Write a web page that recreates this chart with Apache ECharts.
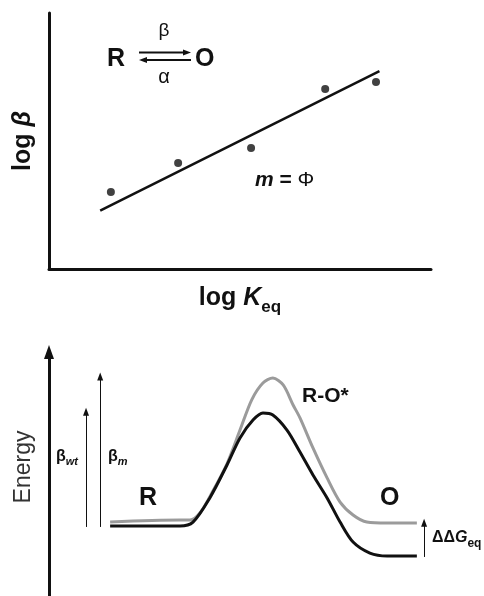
<!DOCTYPE html>
<html>
<head>
<meta charset="utf-8">
<script src="https://cdn.jsdelivr.net/npm/echarts@6/dist/echarts.min.js"></script>
<style>
  html, body { margin: 0; padding: 0; background: #fff; }
  #chart { width: 484px; height: 596px; }
</style>
</head>
<body>
<div id="chart"></div>
<script>
// top panel: log beta against log Keq (arbitrary units 0-10)
const logK = [1.62, 3.38, 5.29, 7.23, 8.56];
const logBeta = [3.01, 4.14, 4.73, 7.03, 7.30];
const fitLogK = [1.34, 8.65];
const fitLogBeta = [2.28, 7.73];

// bottom panel: reaction coordinate against energy
const coordWt = [1.60, 3.43, 3.77, 4.21, 4.66, 5.00, 5.34, 5.60, 5.86, 6.23, 6.57, 6.91, 7.28, 7.62, 7.96, 8.40, 8.85, 9.63];
const energyWt = [2.87, 2.87, 3.03, 4.02, 5.37, 6.48, 7.21, 7.50, 7.42, 6.80, 5.90, 4.96, 4.02, 3.03, 2.21, 1.76, 1.64, 1.64];
const coordMut = [1.60, 3.43, 3.69, 3.95, 4.29, 4.66, 5.00, 5.31, 5.60, 5.86, 6.13, 6.39, 6.57, 6.91, 7.28, 7.62, 7.96, 8.32, 8.85, 9.63];
const energyMut = [3.03, 3.11, 3.11, 3.40, 4.30, 5.42, 6.80, 8.05, 8.73, 8.93, 8.65, 7.83, 7.30, 6.07, 4.84, 3.85, 3.32, 3.03, 2.99, 2.99];

// vertical arrows: beta_wt, beta_m, ddG_eq
const arrowX = [0.97, 1.34, 9.82];
const arrowFrom = [2.83, 2.83, 1.60];
const arrowTo = [7.55, 9.00, 3.00];

const FONT = '"Liberation Sans", Arial, sans-serif';

const zip = (a, b) => a.map((v, i) => [v, b[i]]);

const hiddenAxis = {
  type: 'value', min: 0, max: 10,
  axisTick: { show: false },
  axisLabel: { show: false },
  splitLine: { show: false }
};

const chart = echarts.init(document.getElementById('chart'));

const option = {
  animation: false,
  backgroundColor: '#fff',
  textStyle: { fontFamily: FONT },
  grid: [
    { left: 49, top: 13, width: 382, height: 256 },
    { left: 49, top: 352, width: 382, height: 244 }
  ],
  xAxis: [
    Object.assign({}, hiddenAxis, {
      gridIndex: 0,
      axisLine: { show: true, onZero: false, lineStyle: { color: '#111', width: 3 } },
      name: '{a|log }{k|K}{s|eq}',
      nameLocation: 'middle',
      nameGap: 17,
      nameTextStyle: {
        rich: {
          a: { fontFamily: FONT, fontSize: 25, fontWeight: 'bold', color: '#111', lineHeight: 25, verticalAlign: 'top' },
          k: { fontFamily: FONT, fontSize: 25, fontWeight: 'bold', fontStyle: 'italic', color: '#111', lineHeight: 25, verticalAlign: 'top' },
          s: { fontFamily: FONT, fontSize: 17, fontWeight: 'bold', color: '#111', lineHeight: 17, verticalAlign: 'top', padding: [13, 0, 0, 0] }
        }
      }
    }),
    Object.assign({}, hiddenAxis, { gridIndex: 1, show: false })
  ],
  yAxis: [
    Object.assign({}, hiddenAxis, {
      gridIndex: 0,
      axisLine: { show: true, onZero: false, lineStyle: { color: '#111', width: 3 } },
      name: '{a|log }{b|β}',
      nameLocation: 'middle',
      nameGap: 13,
      nameTextStyle: {
        rich: {
          a: { fontFamily: FONT, fontSize: 25, fontWeight: 'bold', color: '#111' },
          b: { fontFamily: FONT, fontSize: 25, fontWeight: 'bold', fontStyle: 'italic', color: '#111' }
        }
      }
    }),
    Object.assign({}, hiddenAxis, {
      gridIndex: 1,
      axisLine: {
        show: true, onZero: false,
        symbol: ['none', 'triangle'], symbolSize: [10, 14],
        lineStyle: { color: '#111', width: 3 }
      },
      name: 'Energy',
      nameLocation: 'middle',
      nameGap: 14,
      nameTextStyle: { fontFamily: FONT, fontSize: 23, color: '#333', padding: [0, 0, 0, 14] }
    })
  ],
  series: [
    {
      type: 'scatter',
      xAxisIndex: 0, yAxisIndex: 0,
      data: zip(logK, logBeta),
      symbolSize: 8,
      itemStyle: { color: '#111' },
      silent: true
    },
    {
      type: 'line',
      xAxisIndex: 0, yAxisIndex: 0,
      data: zip(fitLogK, fitLogBeta),
      showSymbol: false,
      lineStyle: { color: '#111', width: 2.5 },
      silent: true
    },
    {
      type: 'line',
      xAxisIndex: 1, yAxisIndex: 1,
      data: zip(coordMut, energyMut),
      smooth: 0.3,
      showSymbol: false,
      lineStyle: { color: '#9b9b9b', width: 3 },
      silent: true
    },
    {
      type: 'line',
      xAxisIndex: 1, yAxisIndex: 1,
      data: zip(coordWt, energyWt),
      smooth: 0.3,
      showSymbol: false,
      lineStyle: { color: '#111', width: 3 },
      silent: true,
      markLine: {
        silent: true,
        symbol: ['none', 'triangle'],
        symbolSize: [6, 8],
        label: { show: false },
        lineStyle: { color: '#111', width: 1, type: 'solid' },
        data: arrowX.map((x, i) => [
          { coord: [x, arrowFrom[i]] },
          { coord: [x, arrowTo[i]] }
        ])
      }
    }
  ],
  graphic: [
    // R <=> O scheme
    { type: 'text', left: 107, top: 47, style: { text: 'R', font: 'bold 25px ' + FONT, fill: '#111' } },
    { type: 'text', left: 195, top: 47, style: { text: 'O', font: 'bold 25px ' + FONT, fill: '#111' } },
    { type: 'text', x: 164, y: 31, style: { text: 'β', font: '19px ' + FONT, fill: '#111', align: 'center', verticalAlign: 'middle' } },
    { type: 'text', x: 164, y: 77, style: { text: 'α', font: '20px ' + FONT, fill: '#111', align: 'center', verticalAlign: 'middle' } },
    { type: 'line', shape: { x1: 139, y1: 52.5, x2: 185, y2: 52.5 }, style: { stroke: '#111', lineWidth: 2 } },
    { type: 'polygon', shape: { points: [[191, 52.5], [183, 49.5], [183, 55.5]] }, style: { fill: '#111' } },
    { type: 'line', shape: { x1: 145, y1: 60, x2: 191, y2: 60 }, style: { stroke: '#111', lineWidth: 2 } },
    { type: 'polygon', shape: { points: [[139, 60], [147, 57], [147, 63]] }, style: { fill: '#111' } },
    {
      type: 'text', left: 255, top: 170,
      style: {
        text: '{i|m}{n| = }{p|Φ}',
        rich: {
          i: { font: 'italic bold 21px ' + FONT, fill: '#111' },
          n: { font: 'bold 21px ' + FONT, fill: '#111' },
          p: { font: '21px ' + FONT, fill: '#111' }
        }
      }
    },
    // energy diagram labels
    {
      type: 'text', left: 56, top: 449,
      style: {
        text: '{b|β}{s|wt}',
        rich: {
          b: { font: 'bold 16px ' + FONT, fill: '#111', lineHeight: 16, verticalAlign: 'top' },
          s: { font: 'italic bold 11px ' + FONT, fill: '#111', lineHeight: 11, verticalAlign: 'top', padding: [7, 0, 0, 0] }
        }
      }
    },
    {
      type: 'text', left: 108, top: 449,
      style: {
        text: '{b|β}{s|m}',
        rich: {
          b: { font: 'bold 16px ' + FONT, fill: '#111', lineHeight: 16, verticalAlign: 'top' },
          s: { font: 'italic bold 11px ' + FONT, fill: '#111', lineHeight: 11, verticalAlign: 'top', padding: [7, 0, 0, 0] }
        }
      }
    },
    { type: 'text', left: 139, top: 486, style: { text: 'R', font: 'bold 25px ' + FONT, fill: '#111' } },
    { type: 'text', left: 380, top: 486, style: { text: 'O', font: 'bold 25px ' + FONT, fill: '#111' } },
    { type: 'text', left: 302, top: 386, style: { text: 'R-O*', font: 'bold 21px ' + FONT, fill: '#111' } },
    {
      type: 'text', left: 432, top: 530,
      style: {
        text: '{d|ΔΔ}{g|G}{s|eq}',
        rich: {
          d: { font: 'bold 16px ' + FONT, fill: '#111', lineHeight: 16, verticalAlign: 'top' },
          g: { font: 'italic bold 16px ' + FONT, fill: '#111', lineHeight: 16, verticalAlign: 'top' },
          s: { font: 'bold 12px ' + FONT, fill: '#111', lineHeight: 12, verticalAlign: 'top', padding: [8, 0, 0, 0] }
        }
      }
    }
  ]
};

chart.setOption(option);
window.addEventListener('resize', () => chart && chart.resize());
</script>
</body>
</html>
